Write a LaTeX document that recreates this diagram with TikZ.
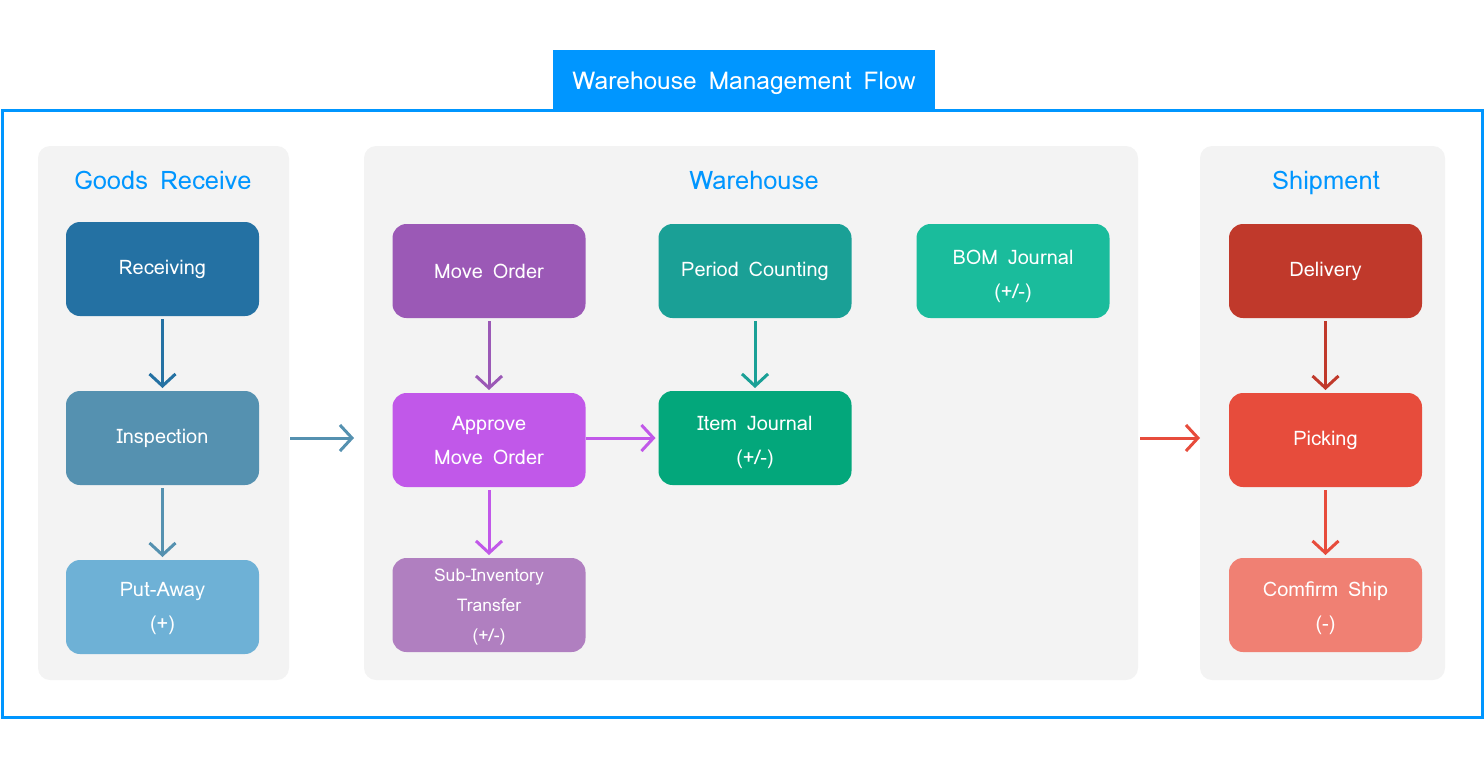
\documentclass[tikz,border=0pt]{standalone}
\usepackage{fontspec}
\setmainfont{Loma}[WordSpace=1.45]
\usetikzlibrary{arrows.meta}
\definecolor{mainblue}{RGB}{0,150,255}
\definecolor{panelgray}{RGB}{243,243,243}
\definecolor{cRecv}{RGB}{36,113,163}
\definecolor{cInsp}{RGB}{85,145,176}
\definecolor{cPut}{RGB}{110,177,214}
\definecolor{cMove}{RGB}{155,89,182}
\definecolor{cAppr}{RGB}{193,88,233}
\definecolor{cSub}{RGB}{176,127,192}
\definecolor{cPer}{RGB}{26,160,150}
\definecolor{cItem}{RGB}{3,167,123}
\definecolor{cBom}{RGB}{26,188,156}
\definecolor{cDel}{RGB}{192,57,43}
\definecolor{cPick}{RGB}{231,76,60}
\definecolor{cConf}{RGB}{240,128,115}
\newcommand{\dn}[2]{\raisebox{-#1pt}[\height][\depth]{\begin{tabular}{@{}c@{}}#2\end{tabular}}}
\tikzset{
  panel/.style={fill=panelgray, rounded corners=12pt, inner sep=0pt, outer sep=0pt},
  box/.style={rounded corners=14pt, minimum width=193pt, minimum height=94pt, inner sep=0pt, outer sep=0pt,
    text=white, align=center, font=\fontsize{20}{34}\selectfont},
  hdr/.style={text=mainblue, font=\fontsize{25.5}{30}\selectfont, inner sep=0pt, anchor=base},
  flow/.style={line width=3pt, -{Straight Barb[length=12pt,width=26pt,line width=3pt]}, shorten <=3pt, shorten >=3pt}
}
\begin{document}
\begin{tikzpicture}[x=1pt,y=-1pt]
\useasboundingbox (0,0) rectangle (1484,769);
% outer frame and title
\draw[mainblue, line width=3pt] (2,110) rectangle (1482,717);
\node[fill=mainblue, minimum width=382pt, minimum height=60pt, inner sep=0pt] (title) at (744,80) {};
\node[text=white, font=\fontsize{24.5}{28}\selectfont, inner sep=0pt, anchor=base] (titletext) at (744,89) {Warehouse Management Flow};
% panels
\node[panel, minimum width=251pt, minimum height=534pt] (p1) at (163.5,413) {};
\node[panel, minimum width=774pt, minimum height=534pt] (p2) at (751,413) {};
\node[panel, minimum width=245pt, minimum height=534pt] (p3) at (1322.5,413) {};
\node[hdr] (h1) at (163,189) {Goods Receive};
\node[hdr] (h2) at (754,189) {Warehouse};
\node[hdr] (h3) at (1326,189) {Shipment};
% goods receive
\node[box, fill=cRecv] (recv) at (162.5,269) {Receiving};
\node[box, fill=cInsp] (insp) at (162.5,438) {Inspection};
\node[box, fill=cPut] (put) at (162.5,607) {\dn{0}{Put-Away\\(+)}};
% warehouse
\node[box, fill=cMove] (move) at (489,271) {Move Order};
\node[box, fill=cAppr] (appr) at (489,440) {\dn{1}{Approve\\Move Order}};
\node[box, fill=cSub, font=\fontsize{17.5}{30}\selectfont] (sub) at (489,605) {\dn{0}{Sub-Inventory\\Transfer\\(+/-)}};
\node[box, fill=cPer] (per) at (755,271) {Period Counting};
\node[box, fill=cItem] (item) at (755,438) {\dn{2.5}{Item Journal\\(+/-)}};
\node[box, fill=cBom] (bom) at (1013,271) {\dn{4}{BOM Journal\\(+/-)}};
% shipment
\node[box, fill=cDel] (del) at (1325.5,271) {Delivery};
\node[box, fill=cPick] (pick) at (1325.5,440) {Picking};
\node[box, fill=cConf] (conf) at (1325.5,605) {\dn{2}{Comfirm Ship\\(-)}};
% arrows
\draw[flow, cRecv] (recv) -- (insp);
\draw[flow, cInsp] (insp) -- (put);
\draw[flow, cInsp, shorten <=1pt, shorten >=10pt] (p1.east |- insp.east) -- (p2.west |- insp.east);
\draw[flow, cMove] (move) -- (appr);
\draw[flow, cAppr] (appr) -- (sub);
\draw[flow, cAppr, shorten <=0pt] (appr.east |- item.east) -- (item.west);
\draw[flow, cPer] (per) -- (item);
\draw[flow, cPick, shorten <=2pt, shorten >=0pt] (p2.east |- item.east) -- (p3.west |- item.east);
\draw[flow, cDel] (del) -- (pick);
\draw[flow, cPick] (pick) -- (conf);
\end{tikzpicture}
\end{document}
